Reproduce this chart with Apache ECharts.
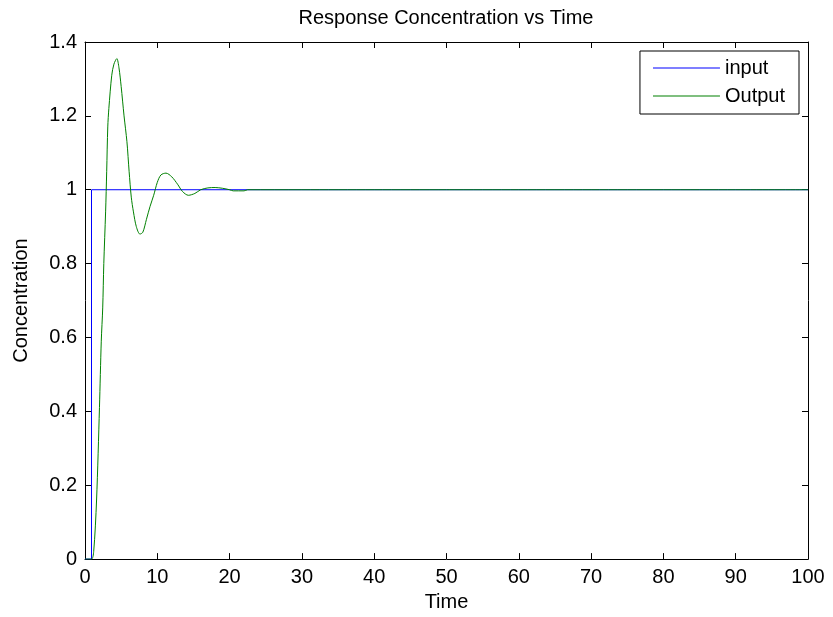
<!DOCTYPE html>
<html>
<head>
<meta charset="utf-8">
<script src="https://cdn.jsdelivr.net/npm/echarts@6/dist/echarts.min.js"></script>
<style>
html,body{margin:0;padding:0;background:#fff;}
#main{width:833px;height:617px;}
</style>
</head>
<body>
<div id="main"></div>
<script>
// Data
var inputTime = [0, 0.9, 0.9, 100];
var inputValues = [0, 0, 1, 1];

var outputTime = [0, 0.9, 1.2, 1.6, 2.0, 2.25, 2.45, 2.6, 2.85, 3.0, 3.15, 3.3, 3.7, 4.0, 4.4, 4.7, 5.0, 5.4, 5.8, 6.1, 6.4, 6.7, 7.1, 7.6, 8.0, 8.5, 9.0, 9.5, 10.0, 10.5, 11.2, 12.0, 12.8, 13.5, 14.3, 15.2, 16.0, 17.0, 18.0, 19.0, 20.0, 20.5, 22.0, 22.5, 30, 40, 50, 60, 70, 80, 90, 100];
var outputValues = [0, 0, 0.02, 0.16, 0.41, 0.59, 0.68, 0.80, 0.94, 1.05, 1.17, 1.22, 1.31, 1.34, 1.355, 1.33, 1.28, 1.20, 1.13, 1.05, 0.98, 0.94, 0.90, 0.88, 0.885, 0.92, 0.955, 0.985, 1.02, 1.04, 1.045, 1.035, 1.015, 0.995, 0.985, 0.99, 1.0, 1.005, 1.006, 1.004, 1.0, 0.997, 0.997, 1.0, 1, 1, 1, 1, 1, 1, 1, 1];

var xTicks = {min: 0, max: 100, interval: 10};
var yTicks = {min: 0, max: 1.4, interval: 0.2};

function pairs(xs, ys) { return xs.map(function (x, i) { return [x, ys[i]]; }); }

var FONT = '"Liberation Sans", Arial, Helvetica, sans-serif';
var chart = echarts.init(document.getElementById('main'), null, {renderer: 'canvas'});

var axisLineStyle = {show: true, onZero: false, lineStyle: {color: '#000', width: 1}};
var tickStyle = {show: true, inside: true, length: 6, lineStyle: {color: '#000', width: 1}};

chart.setOption({
  backgroundColor: '#fff',
  animation: false,
  title: {
    text: 'Response Concentration vs Time',
    left: 446, top: 8, textAlign: 'center', padding: 0,
    textStyle: {fontFamily: FONT, fontSize: 20, fontWeight: 'normal', color: '#000'}
  },
  grid: {left: 85, right: 25, top: 42, bottom: 57, containLabel: false},
  legend: {
    right: 34, top: 51, orient: 'vertical',
    backgroundColor: '#fff', borderColor: '#000', borderWidth: 1,
    padding: [7, 14, 8, 13], itemGap: 8,
    itemWidth: 67, itemHeight: 1, icon: 'rect',
    textStyle: {fontFamily: FONT, fontSize: 20, color: '#000'},
    data: ['input', 'Output']
  },
  xAxis: [{
    type: 'value', min: xTicks.min, max: xTicks.max, interval: xTicks.interval,
    name: 'Time', nameLocation: 'middle', nameGap: 31,
    nameTextStyle: {fontFamily: FONT, fontSize: 20, color: '#000'},
    axisLine: axisLineStyle, axisTick: tickStyle,
    axisLabel: {fontFamily: FONT, fontSize: 20, color: '#000', margin: 8},
    splitLine: {show: false}
  }, {
    type: 'value', position: 'top', min: xTicks.min, max: xTicks.max, interval: xTicks.interval,
    axisLine: axisLineStyle, axisTick: tickStyle, axisLabel: {show: false}, splitLine: {show: false}
  }],
  yAxis: [{
    type: 'value', min: yTicks.min, max: yTicks.max, interval: yTicks.interval,
    name: 'Concentration', nameLocation: 'middle', nameGap: 54,
    nameTextStyle: {fontFamily: FONT, fontSize: 20, color: '#000'},
    axisLine: axisLineStyle, axisTick: tickStyle,
    axisLabel: {fontFamily: FONT, fontSize: 20, color: '#000', margin: 8,
      formatter: function (v) { return String(Math.round(v * 10) / 10); }},
    splitLine: {show: false}
  }, {
    type: 'value', position: 'right', min: yTicks.min, max: yTicks.max, interval: yTicks.interval,
    axisLine: axisLineStyle, axisTick: tickStyle, axisLabel: {show: false}, splitLine: {show: false}
  }],
  series: [{
    name: 'input', type: 'line', data: pairs(inputTime, inputValues),
    showSymbol: false, symbol: 'none', color: '#0000ff',
    lineStyle: {color: '#0000ff', width: 1}, z: 2
  }, {
    name: 'Output', type: 'line', data: pairs(outputTime, outputValues),
    showSymbol: false, symbol: 'none', smooth: 0.3, color: '#008000',
    lineStyle: {color: '#008000', width: 1}, z: 3
  }]
});
</script>
</body>
</html>
